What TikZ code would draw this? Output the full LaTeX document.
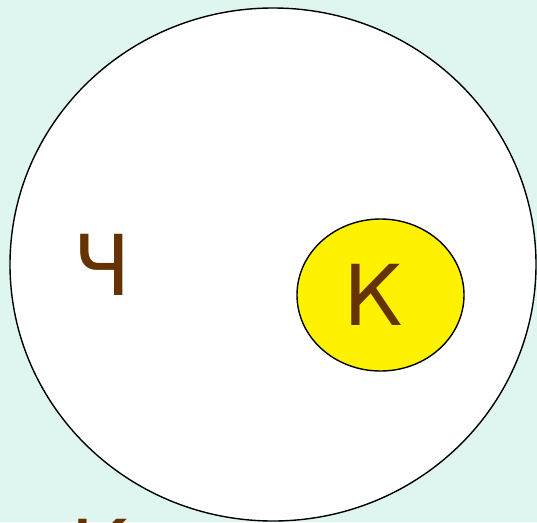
\documentclass[tikz,border=0pt]{standalone}
\usepackage{fontspec}
\setmainfont{DejaVu Sans}
\usetikzlibrary{shapes.geometric}
\definecolor{bgc}{RGB}{222,245,240}
\definecolor{txt}{RGB}{102,51,0}
\begin{document}
\begin{tikzpicture}[x=1pt,y=-1pt,
  lbl/.style={text=txt,font=\fontsize{84}{84}\selectfont,anchor=base,inner sep=0pt},
  outline/.style={draw=black,line width=1.4pt}]
\useasboundingbox (0,0) rectangle (537,522);
\clip (0,0) rectangle (537,522);
\fill[bgc] (0,0) rectangle (537,522);
\node[outline,fill=white,ellipse,minimum width=526pt,minimum height=513pt,inner sep=0pt] (big) at (273,264.5) {};
\node[outline,fill=yellow,ellipse,minimum width=167pt,minimum height=152pt,inner sep=0pt] (small) at (380.5,295) {};
\node[lbl] (ch) at (102,295) {Ч};
\node[lbl] (k) at (373,325) {К};
\node[lbl] (k2) at (100,580) {К};
\end{tikzpicture}
\end{document}
